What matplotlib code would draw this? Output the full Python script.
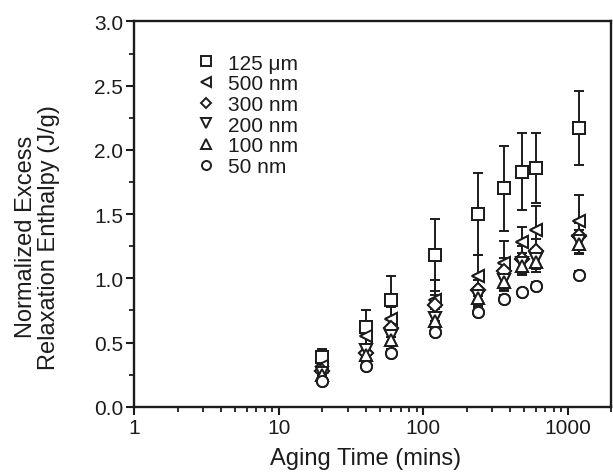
import matplotlib
matplotlib.use("Agg")
import matplotlib.pyplot as plt
from matplotlib.lines import Line2D
import numpy as np

plt.rcParams['font.family'] = ['Liberation Sans', 'DejaVu Sans']

aging_time = [20, 40, 60, 120, 240, 360, 480, 600, 1200]

labels = ['125 \u03bcm', '500 nm', '300 nm', '200 nm', '100 nm', '50 nm']
markers = ['s', '<', 'D', 'v', '^', 'o']

v_125um = [0.39, 0.62, 0.83, 1.18, 1.50, 1.70, 1.83, 1.86, 2.17]
e_125um = [0.06, 0.13, 0.19, 0.28, 0.32, 0.33, 0.30, 0.27, 0.29]
v_500nm = [0.32, 0.55, 0.68, 0.83, 1.02, 1.12, 1.28, 1.38, 1.45]
e_500nm = [0.05, 0.08, 0.10, 0.16, 0.16, 0.17, 0.12, 0.18, 0.20]
v_300nm = [0.28, 0.42, 0.61, 0.79, 0.91, 1.06, 1.15, 1.21, 1.33]
e_300nm = [0.04, 0.05, 0.07, 0.08, 0.08, 0.10, 0.10, 0.10, 0.10]
v_200nm = [0.26, 0.44, 0.55, 0.69, 0.86, 0.99, 1.12, 1.15, 1.29]
e_200nm = [0.04, 0.05, 0.06, 0.07, 0.07, 0.08, 0.08, 0.08, 0.09]
v_100nm = [0.25, 0.40, 0.52, 0.67, 0.85, 0.97, 1.10, 1.13, 1.27]
e_100nm = [0.04, 0.04, 0.05, 0.06, 0.07, 0.07, 0.07, 0.08, 0.08]
v_50nm = [0.20, 0.32, 0.42, 0.58, 0.74, 0.84, 0.89, 0.94, 1.03]
e_50nm = [0.02, 0.02, 0.03, 0.03, 0.03, 0.03, 0.03, 0.03, 0.03]

values = [v_125um, v_500nm, v_300nm, v_200nm, v_100nm, v_50nm]
errors = [e_125um, e_500nm, e_300nm, e_200nm, e_100nm, e_50nm]

ink = '#1c1c1c'

fig = plt.figure(figsize=(6.13, 4.77), dpi=100)
ax = fig.add_axes([0.219, 0.145, 0.778, 0.808])

for lab, m, v, e in zip(labels, markers, values, errors):
    ms = 7 if m == 'D' else 8
    ax.errorbar(aging_time, v, yerr=e, fmt=m, mfc='white', mec=ink,
                ms=ms, mew=1.4, ecolor=ink, elinewidth=1.4, capsize=3.8,
                capthick=1.4, label=lab)
for lab, m, v in zip(labels, markers, values):
    ms = 7 if m == 'D' else 8
    ax.plot(aging_time, v, linestyle='none', marker=m, mfc='none', mec=ink, ms=ms, mew=1.4)

ax.set_xscale('log')
ax.set_xlim(1, 2000)
ax.set_ylim(0, 3.0)
ax.set_yticks(np.arange(0, 3.01, 0.5))
ax.set_yticks(np.arange(0.25, 3.0, 0.5), minor=True)
ax.yaxis.set_major_formatter(matplotlib.ticker.FormatStrFormatter('%.1f'))
ax.xaxis.set_major_formatter(matplotlib.ticker.FuncFormatter(lambda v, p: f'{v:g}'))
ax.tick_params(which='major', direction='out', length=6, width=1.5, labelsize=15,
               color=ink, labelcolor=ink, pad=2)
ax.tick_params(which='minor', direction='out', length=3.5, width=1.3, color=ink)
for s in ax.spines.values():
    s.set_linewidth(1.7)
    s.set_color(ink)

ax.set_xlabel('Aging Time (mins)', fontsize=17, color=ink, labelpad=6)
ax.xaxis.set_label_coords(0.485, -0.105)
ax.set_ylabel('Normalized Excess\nRelaxation Enthalpy (J/g)', fontsize=17, color=ink,
              linespacing=1.1)
ax.yaxis.set_label_coords(-0.155, 0.443)

handles = [Line2D([], [], linestyle='none', marker=m, mfc='none', mec=ink,
                  ms=(5.5 if m == 'D' else 6.5), mew=1.4) for m in markers]
ax.legend(handles, labels, loc='upper left', bbox_to_anchor=(0.078, 0.965), frameon=False,
          fontsize=15, handletextpad=0.3, labelspacing=0.08, handlelength=1.5,
          labelcolor=ink)

fig.savefig('out.png', dpi=100)
